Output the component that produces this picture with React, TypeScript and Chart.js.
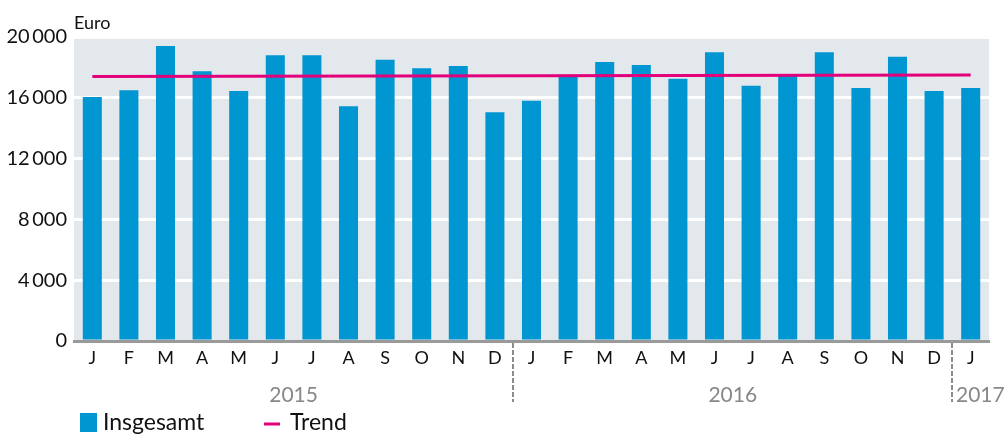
import React, { useEffect, useRef } from "react";
import { Chart, registerables } from "chart.js";

Chart.register(...registerables);

const months: string[] = [
  "J", "F", "M", "A", "M", "J", "J", "A", "S", "O", "N", "D",
  "J", "F", "M", "A", "M", "J", "J", "A", "S", "O", "N", "D",
  "J",
];
const years: string[] = ["2015", "2016", "2017"];
const yearStartIndex: number[] = [0, 12, 24];
const insgesamt: number[] = [
  16050, 16500, 19400, 17750, 16450, 18800, 18800, 15450, 18500, 17950, 18100, 15050,
  15800, 17400, 18350, 18150, 17250, 19000, 16800, 17450, 19000, 16650, 18700, 16450,
  16650,
];
const trendStart = 17400;
const trendEnd = 17500;
const yTicks: number[] = [0, 4000, 8000, 12000, 16000, 20000];
const unitLabel = "Euro";
const seriesNames: string[] = ["Insgesamt", "Trend"];

const BAR = "#0096d1";
const PINK = "#e3007b";
const BG = "#e3e8ec";
const FONT = "Lato, 'Noto Sans', sans-serif";

function fmt(v: number): string {
  const s = String(v);
  if (s.length <= 3) return s;
  return s.slice(0, s.length - 3) + "\u2009" + s.slice(s.length - 3);
}

export default function App() {
  const ref = useRef<HTMLCanvasElement | null>(null);

  useEffect(() => {
    if (!ref.current) return;
    const trendData: (number | null)[] = months.map(() => null);
    trendData[0] = trendStart;
    trendData[months.length - 1] = trendEnd;

    const bgPlugin = {
      id: "bgfill",
      beforeDraw(chart: any) {
        const { ctx, chartArea } = chart;
        ctx.save();
        ctx.fillStyle = BG;
        ctx.fillRect(chartArea.left, chartArea.top, chartArea.right - chartArea.left, chartArea.bottom - chartArea.top);
        ctx.restore();
      },
      afterDraw(chart: any) {
        const { ctx, chartArea } = chart;
        const xs = chart.scales.x;
        ctx.save();
        // unit label
        ctx.fillStyle = "#111";
        ctx.font = `18px ${FONT}`;
        ctx.textAlign = "left";
        ctx.textBaseline = "alphabetic";
        ctx.fillText(unitLabel, chartArea.left, 29);

        // year separators
        ctx.strokeStyle = "#8c8c8c";
        ctx.lineWidth = 2;
        ctx.setLineDash([5, 2]);
        const sepX: number[] = [];
        for (let i = 1; i < yearStartIndex.length; i++) {
          const k = yearStartIndex[i];
          const x = Math.round((xs.getPixelForValue(k - 1) + xs.getPixelForValue(k)) / 2);
          sepX.push(x);
          ctx.beginPath();
          ctx.moveTo(x, chartArea.bottom + 2);
          ctx.lineTo(x, 402);
          ctx.stroke();
        }
        ctx.setLineDash([]);

        // year labels
        ctx.fillStyle = "#888";
        ctx.font = `21px ${FONT}`;
        ctx.textBaseline = "middle";
        for (let i = 0; i < years.length; i++) {
          const a = yearStartIndex[i];
          const b = i + 1 < yearStartIndex.length ? yearStartIndex[i + 1] - 1 : months.length - 1;
          if (i === years.length - 1) {
            ctx.textAlign = "left";
            ctx.fillText(years[i], sepX[sepX.length - 1] + 4, 395);
          } else {
            ctx.textAlign = "center";
            const cx = (xs.getPixelForValue(a) + xs.getPixelForValue(b)) / 2;
            ctx.fillText(years[i], cx, 395);
          }
        }

        // legend
        ctx.fillStyle = BAR;
        ctx.fillRect(80, 413, 17, 19);
        ctx.fillStyle = "#111";
        ctx.font = `23px ${FONT}`;
        ctx.textAlign = "left";
        ctx.textBaseline = "middle";
        ctx.fillText(seriesNames[0], 103, 423);
        ctx.strokeStyle = PINK;
        ctx.lineWidth = 3;
        ctx.beginPath();
        ctx.moveTo(264, 424);
        ctx.lineTo(280, 424);
        ctx.stroke();
        ctx.fillText(seriesNames[1], 290, 423);
        ctx.restore();
      },
    };

    const chart = new Chart(ref.current, {
      type: "bar",
      data: {
        labels: months,
        datasets: [
          {
            type: "line",
            label: seriesNames[1],
            data: trendData,
            borderColor: PINK,
            borderWidth: 3,
            pointRadius: 0,
            spanGaps: true,
            order: 0,
          } as any,
          {
            type: "bar",
            label: seriesNames[0],
            data: insgesamt,
            backgroundColor: BAR,
            barPercentage: 0.52,
            categoryPercentage: 1,
            order: 1,
          },
        ],
      },
      options: {
        animation: false,
        responsive: false,
        maintainAspectRatio: false,
        layout: { padding: { top: 37, right: 15, left: 0, bottom: 0 } },
        plugins: { legend: { display: false }, tooltip: { enabled: false } },
        scales: {
          x: {
            grid: { display: false, drawTicks: false },
            border: { display: true, color: "#9a9a9a", width: 3 },
            ticks: {
              color: "#111",
              font: { family: FONT, size: 18 },
              padding: 6,
              maxRotation: 0,
              autoSkip: false,
            },
            afterFit(scale: any) {
              scale.height = 94;
            },
          },
          y: {
            min: 0,
            max: 20000,
            border: { display: false },
            grid: { color: "#ffffff", lineWidth: 3, drawTicks: false },
            afterBuildTicks(scale: any) {
              scale.ticks = yTicks.map((v) => ({ value: v }));
            },
            ticks: {
              color: "#111",
              font: { family: FONT, size: 20 },
              padding: 7,
              callback: (v: any) => fmt(Number(v)),
            },
            afterFit(scale: any) {
              scale.width = 74;
            },
          },
        },
      },
      plugins: [bgPlugin],
    });
    return () => chart.destroy();
  }, []);

  return (
    <div style={{ position: "fixed", left: 0, top: 0, width: 1004, height: 435, background: "#fff" }}>
      <canvas ref={ref} width={1004} height={435} style={{ width: 1004, height: 435, display: "block" }} />
    </div>
  );
}
